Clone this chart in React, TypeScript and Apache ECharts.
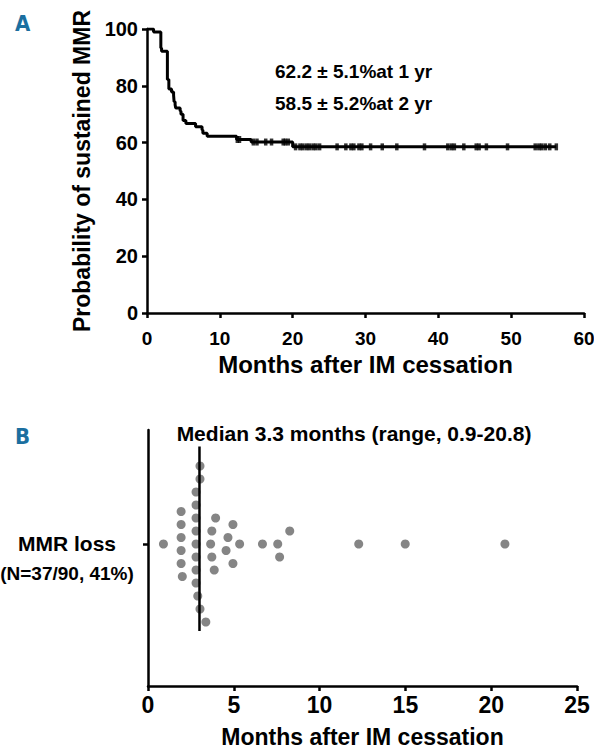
import React, { useEffect, useRef } from "react";
import * as echarts from "echarts";

// Panel A: Kaplan-Meier steps (months, % after the event)
const kmTimes = [0.9, 1.9, 2.0, 2.8, 3.0, 3.37, 3.65, 3.72, 3.86, 3.94, 4.55, 4.66, 4.95, 5.34, 6.67, 7.56, 7.67, 8.26, 12.3, 14.3, 20.0];
const kmSurv = [98.9, 93.3, 92.2, 82.2, 78.9, 77.8, 76.7, 74.4, 73.3, 72.2, 71.1, 70.0, 67.8, 66.7, 65.6, 64.4, 63.3, 62.2, 61.1, 60.2, 58.5];
// censored observations (months)
const censorTimes = [12.4, 12.7, 14.6, 15.1, 16.3, 17.1, 18.7, 19.0, 19.4, 20.4, 21.0, 21.4, 21.9, 22.3, 22.8, 23.2, 23.7, 26.1, 27.3, 28.0, 28.4, 29.1, 29.5, 30.7, 32.3, 34.3, 38.1, 41.3, 41.8, 42.2, 43.5, 45.2, 45.6, 46.6, 49.5, 53.3, 53.8, 54.2, 54.7, 55.3, 56.2];
const aXTicks = [0, 10, 20, 30, 40, 50, 60];
const aYTicks = [0, 20, 40, 60, 80, 100];

// Panel B: time of MMR loss (months) and swarm offset (half-rows)
const lossMonths = [0.9, 1.93, 1.93, 1.93, 1.93, 1.93, 2.0, 2.8, 2.8, 2.8, 2.8, 2.8, 2.8, 2.8, 2.8, 2.9, 3.03, 3.03, 3.03, 3.37, 3.94, 3.72, 3.65, 3.72, 3.86, 4.95, 4.66, 5.34, 4.55, 4.95, 6.67, 7.56, 7.67, 8.26, 12.28, 14.99, 20.8];
const lossOffset = [0, 5, 3, 1, -1, -3, -5, 8, 6, 4, 2, 0, -2, -4, -6, -8, 12, 10, -10, -12, 4, 2, 0, -2, -4, 3, 1, 0, -1, -3, 0, 0, -2, 2, 0, 0, 0];
const medianLine = 3.0;
const medianExtent = [15, -13.4];
const bXTicks = [0, 5, 10, 15, 20, 25];

const FONT = "Liberation Sans, Arial, sans-serif";

export default function App() {
  const ref = useRef<HTMLDivElement>(null);
  useEffect(() => {
    document.body.style.margin = "0";
    const chart = echarts.init(ref.current!, null, { renderer: "svg" });

    const survAt = (t: number) => {
      let s = 100;
      for (let i = 0; i < kmTimes.length; i++) if (kmTimes[i] <= t) s = kmSurv[i];
      return s;
    };
    const lastT = censorTimes[censorTimes.length - 1];
    const kmData: number[][] = [[0, 100]];
    kmTimes.forEach((t, i) => kmData.push([t, kmSurv[i]]));
    kmData.push([lastT, kmSurv[kmSurv.length - 1]]);
    const censorData = censorTimes.map((t) => [t, survAt(t)]);
    const dots = lossMonths.map((m, i) => [m, lossOffset[i]]);

    const axisLine = { onZero: false, lineStyle: { color: "#000", width: 2.5 } };
    const axisTick = { show: true, length: 5, lineStyle: { color: "#000", width: 2.5 } };
    const lbl = { color: "#000", fontSize: 19, fontWeight: "bold" as const, fontFamily: FONT };
    const nameStyle = { color: "#000", fontSize: 24, fontWeight: "bold" as const, fontFamily: FONT };

    chart.setOption({
      animation: false,
      grid: [
        { left: 147, top: 29, width: 437, height: 284, outerBoundsMode: "none", containLabel: false },
        { left: 148, top: 430, width: 429, height: 256, outerBoundsMode: "none", containLabel: false },
      ],
      xAxis: [
        {
          gridIndex: 0, type: "value", min: aXTicks[0], max: aXTicks[aXTicks.length - 1], interval: 10,
          axisLine, axisTick, splitLine: { show: false },
          axisLabel: { ...lbl, margin: 16 },
          name: "Months after IM cessation", nameLocation: "middle", nameGap: 39, nameTextStyle: nameStyle,
        },
        {
          gridIndex: 1, type: "value", min: bXTicks[0], max: bXTicks[bXTicks.length - 1], interval: 5,
          axisLine, axisTick, splitLine: { show: false },
          axisLabel: { ...lbl, fontSize: 23, margin: 7 },
          name: "Months after IM cessation", nameLocation: "middle", nameGap: 39, nameTextStyle: { ...nameStyle, fontSize: 23 },
        },
      ],
      yAxis: [
        {
          gridIndex: 0, type: "value", min: aYTicks[0], max: aYTicks[aYTicks.length - 1], interval: 20,
          axisLine: { show: true, ...axisLine }, axisTick, splitLine: { show: false },
          axisLabel: { ...lbl, fontSize: 20, margin: 9 },
          name: "Probability of sustained MMR", nameLocation: "middle", nameGap: 53, nameTextStyle: { ...nameStyle, fontSize: 23 },
        },
        {
          gridIndex: 1, type: "value", min: -21.85, max: 17.54,
          axisLine: { show: true, ...axisLine },
          axisTick: { ...axisTick, customValues: [0] },
          splitLine: { show: false },
          axisLabel: {
            ...lbl, customValues: [-2.3], margin: 81, align: "center",
            formatter: () => "{a|MMR loss}\n{b|(N=37/90, 41%)}",
            rich: {
              a: { fontSize: 21, fontWeight: "bold", fontFamily: FONT, color: "#000", lineHeight: 30 },
              b: { fontSize: 19, fontWeight: "bold", fontFamily: FONT, color: "#000", lineHeight: 30 },
            },
          },
        },
      ],
      series: [
        {
          type: "line", xAxisIndex: 0, yAxisIndex: 0, step: "end", data: kmData, symbol: "none",
          lineStyle: { color: "#000", width: 3 },
        },
        {
          type: "scatter", xAxisIndex: 0, yAxisIndex: 0, data: censorData, symbol: "rect", symbolSize: [3.5, 7],
          itemStyle: { color: "#000" },
        },
        {
          type: "line", xAxisIndex: 1, yAxisIndex: 1, symbol: "none",
          data: [[medianLine, medianExtent[0]], [medianLine, medianExtent[1]]],
          lineStyle: { color: "#000", width: 2.5 },
        },
        {
          type: "scatter", xAxisIndex: 1, yAxisIndex: 1, data: dots, symbolSize: 9,
          itemStyle: { color: "#666666" },
        },
      ],
      graphic: [
        { type: "text", left: 15, top: 12, style: { text: "A", fill: "#1b6fa0", fontSize: 22, fontWeight: "bold", fontFamily: "DejaVu Sans Condensed, DejaVu Sans" } },
        { type: "text", left: 15, top: 425, style: { text: "B", fill: "#1b6fa0", fontSize: 22, fontWeight: "bold", fontFamily: "DejaVu Sans Condensed, DejaVu Sans" } },
        { type: "text", left: 275, top: 62, style: { text: "62.2 ± 5.1%at 1 yr", fill: "#000", fontSize: 19, fontWeight: "bold", fontFamily: FONT } },
        { type: "text", left: 275, top: 94, style: { text: "58.5 ± 5.2%at 2 yr", fill: "#000", fontSize: 19, fontWeight: "bold", fontFamily: FONT } },
        { type: "text", x: 354, y: 433, style: { text: "Median 3.3 months (range, 0.9-20.8)", fill: "#000", fontSize: 21, fontWeight: "bold", fontFamily: FONT, align: "center", verticalAlign: "middle" } },
      ],
    });
    return () => chart.dispose();
  }, []);
  return <div ref={ref} style={{ width: 594, height: 752 }} />;
}
